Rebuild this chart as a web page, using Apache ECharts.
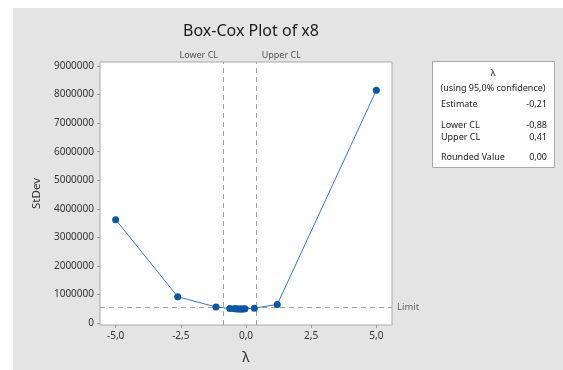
<!DOCTYPE html>
<html>
<head>
<meta charset="utf-8">
<script src="https://cdn.jsdelivr.net/npm/echarts@6/dist/echarts.min.js"></script>
<style>html,body{margin:0;padding:0;background:#fff}#c{width:563px;height:370px}</style>
</head>
<body>
<div id="c"></div>
<script>
// ---- data ----
const lambdaValues = [-5, -2.62, -1.15, -0.62, -0.46, -0.40, -0.34, -0.28, -0.22, -0.16, -0.10, -0.04, 0.32, 1.2, 5];
const stdevValues  = [3620000, 920000, 560000, 510000, 500000, 496000, 493000, 491000, 490000, 491000, 494000, 498000, 520000, 650000, 8150000];
const xTicks = [-5, -2.5, 0, 2.5, 5];
const yTicks = [0, 1000000, 2000000, 3000000, 4000000, 5000000, 6000000, 7000000, 8000000, 9000000];
const lowerCL = -0.88;
const upperCL = 0.41;
const limitValue = 540000;
const tableRows = [["Estimate", "-0,21"], ["Lower CL", "-0,88"], ["Upper CL", "0,41"], ["Rounded Value", "0,00"]];

const FONT = "Noto Sans";
const fmtX = v => v.toFixed(1).replace('.', ',');

const chart = echarts.init(document.getElementById('c'), null, {renderer: 'canvas'});
const option = {
  animation: false,
  backgroundColor: '#ffffff',
  textStyle: {fontFamily: FONT},
  title: {
    text: 'Box-Cox Plot of x8', left: 246, top: 18, textAlign: 'center',
    textStyle: {fontFamily: FONT, fontSize: 16, fontWeight: 'normal', color: '#1a1a1a'}
  },
  grid: {left: 100, right: 171, top: 62, bottom: 45, show: true, backgroundColor: '#fff', borderColor: '#a9a9a9', borderWidth: 1},
  xAxis: {
    type: 'value', min: -5.6, max: 5.6,
    name: 'λ', nameLocation: 'middle', nameGap: 26,
    nameTextStyle: {fontFamily: FONT, fontSize: 14, color: '#333'},
    axisLine: {show: false, onZero: false},
    splitLine: {show: false},
    axisTick: {show: true, length: 3, lineStyle: {color: '#999'}, customValues: xTicks},
    axisLabel: {customValues: xTicks, formatter: fmtX, fontSize: 10, color: '#333', margin: 6}
  },
  yAxis: {
    type: 'value', min: -70000, max: 9140000,
    name: 'StDev', nameLocation: 'middle', nameGap: 52, nameRotate: 90,
    nameTextStyle: {fontFamily: FONT, fontSize: 11.5, color: '#333'},
    axisLine: {show: false, onZero: false},
    splitLine: {show: false},
    axisTick: {show: true, length: 3, lineStyle: {color: '#999'}, customValues: yTicks},
    axisLabel: {customValues: yTicks, formatter: v => String(Math.round(v)), fontSize: 10, color: '#333', margin: 6}
  },
  series: [{
    type: 'line',
    data: lambdaValues.map((l, i) => [l, stdevValues[i]]),
    symbol: 'circle', symbolSize: 7,
    itemStyle: {color: '#0b56a4'},
    lineStyle: {color: '#3a78c0', width: 1},
    z: 5,
    markLine: {
      silent: true, symbol: 'none',
      lineStyle: {color: '#a0a0a0', type: [5, 4], width: 1},
      data: [
        {xAxis: lowerCL, label: {show: false}},
        {xAxis: upperCL, label: {show: false}},
        {yAxis: limitValue, label: {show: true, position: 'end', formatter: 'Limit', color: '#666', fontSize: 9.5, fontFamily: FONT, distance: 5}}
      ]
    }
  }],
  graphic: []
};
chart.setOption(option);

const lx = chart.convertToPixel({gridIndex: 0}, [lowerCL, 0])[0];
const ux = chart.convertToPixel({gridIndex: 0}, [upperCL, 0])[0];

const g = [
  {type: 'rect', shape: {x: 13, y: 8, width: 550, height: 362}, style: {fill: '#e4e4e4'}, z: -100, silent: true},
  {type: 'text', x: lx - 5, y: 55, style: {text: 'Lower CL', fill: '#555', font: '9px "Noto Sans"', textAlign: 'right', textVerticalAlign: 'middle'}},
  {type: 'text', x: ux + 5, y: 55, style: {text: 'Upper CL', fill: '#555', font: '9px "Noto Sans"', textAlign: 'left', textVerticalAlign: 'middle'}},
  {type: 'rect', shape: {x: 432.5, y: 61.5, width: 122, height: 106}, style: {fill: '#fff', stroke: '#a9a9a9', lineWidth: 1}},
  {type: 'text', x: 493, y: 73, style: {text: 'λ', fill: '#222', font: '9px "Noto Sans"', textAlign: 'center', textVerticalAlign: 'middle'}},
  {type: 'text', x: 493, y: 88, style: {text: '(using 95,0% confidence)', fill: '#222', font: '9px "Noto Sans"', textAlign: 'center', textVerticalAlign: 'middle'}}
];
const rowY = [104, 125, 137, 157];
tableRows.forEach((r, i) => {
  g.push({type: 'text', x: 441, y: rowY[i], style: {text: r[0], fill: '#222', font: '9px "Noto Sans"', textAlign: 'left', textVerticalAlign: 'middle'}});
  g.push({type: 'text', x: 547, y: rowY[i], style: {text: r[1], fill: '#222', font: '9px "Noto Sans"', textAlign: 'right', textVerticalAlign: 'middle'}});
});
chart.setOption({graphic: g});
</script>
</body>
</html>
